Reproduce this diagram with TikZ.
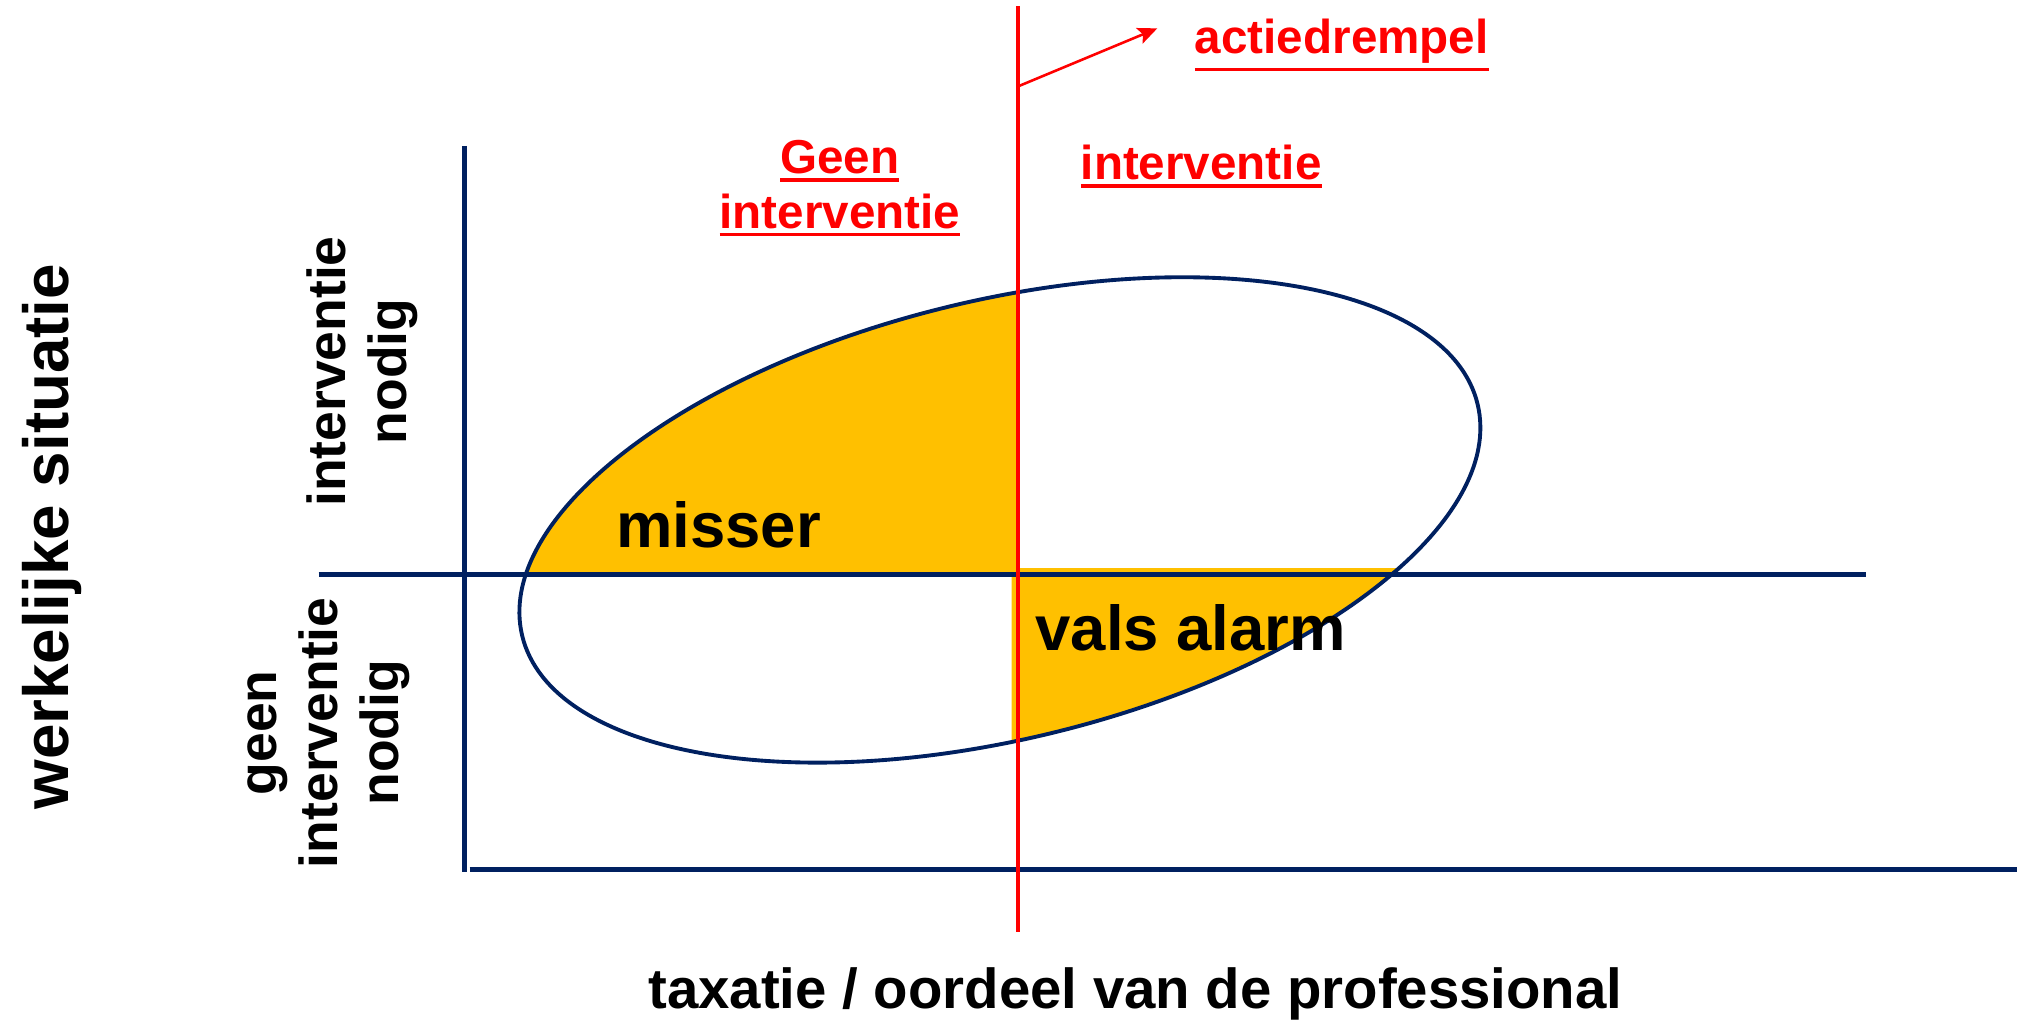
\documentclass[tikz,border=0pt]{standalone}
\usepackage{fontspec}
\setmainfont{Liberation Sans}
\usepackage{xcolor}
\definecolor{navy}{HTML}{002060}
\definecolor{amber}{HTML}{FFC000}
\definecolor{signal}{HTML}{FF0000}
\usetikzlibrary{arrows.meta,positioning}
\newcommand{\thickul}[1]{\vtop{\hbox{#1}\kern0.9pt\hrule height 0.7pt}}

\begin{document}
\begin{tikzpicture}[
  x=0.1mm, y=-0.1mm, %pixel grid
  axisline/.style={draw=navy, line width=0.38mm},
  spread/.style={draw=navy, line width=0.3mm},
  threshold/.style={draw=signal, line width=0.38mm},
  txt/.style={inner sep=0pt, align=center, font=\bfseries},
  sidetxt/.style={txt, rotate=90, font=\fontsize{11.8}{13.4}\selectfont\bfseries},
  redtxt/.style={txt, text=signal, font=\fontsize{10.5}{12}\selectfont\bfseries},
  quadtxt/.style={txt, font=\fontsize{14}{16}\selectfont\bfseries}
  ]
  \useasboundingbox (0,0) rectangle (1568,794);

  % shaded quadrants
  \begin{scope}
    \clip (0,0) rectangle (789,445);
    \fill[amber, rotate around={13.65:(775,403)}] (775,403) ellipse [x radius=381, y radius=170];
  \end{scope}
  \begin{scope}
    \clip (784,441) rectangle (1568,794);
    \fill[amber, rotate around={13.65:(775,403)}] (775,403) ellipse [x radius=381, y radius=170];
  \end{scope}
  \draw[spread, rotate around={13.65:(775,403)}] (775,403) ellipse [x radius=381, y radius=170];

  % axes
  \draw[axisline] (360,113) -- (360,676);
  \draw[axisline] (247,445) -- (1446,445);
  \draw[axisline] (364,674) -- (1563,674);

  % threshold
  \draw[threshold] (789,5) -- (789,722);
  \coordinate (thr) at (789,67);
  \coordinate (tip) at (897,22);
  \draw[signal, line width=0.2mm, -{Stealth[length=1.5mm, width=1.3mm, inset=0.3mm]}] (thr) -- (tip);

  \node[redtxt] (act) at (1040,35) {\thickul{actiedrempel}};
  \node[redtxt] (geen) at (651,146) {\thickul{Geen}\\\thickul{interventie}};
  \node[redtxt] (wel) at (931,129) {\thickul{interventie}};

  \node[quadtxt] (mis) at (557,407) {misser};
  \node[quadtxt] (vals) at (923,487) {vals alarm};

  \node[sidetxt] (nodig) at (281,288) {interventie\\nodig};
  \node[sidetxt] (nietnodig) at (255,568) {geen\\interventie\\nodig};
  \node[txt, rotate=90, font=\fontsize{14.06}{16}\selectfont\bfseries] (werk) at (40,416) {werkelijke situatie};
  \node[txt, font=\fontsize{12.43}{14}\selectfont\bfseries] (tax) at (880,770) {taxatie / oordeel van de professional};
\end{tikzpicture}
\end{document}
